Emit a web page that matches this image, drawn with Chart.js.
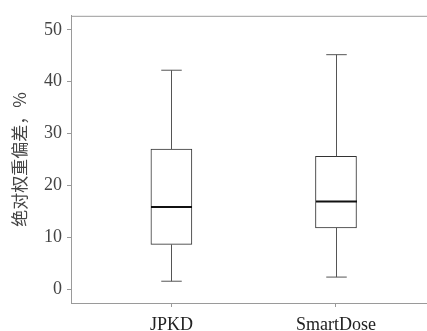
<!DOCTYPE html>
<html>
<head>
<meta charset="utf-8">
<script src="https://cdn.jsdelivr.net/npm/chart.js@4"></script>
<style>
  html, body { margin: 0; padding: 0; background: #fff; }
  #wrap { width: 427px; height: 331px; }
</style>
</head>
<body>
<div id="wrap"><canvas id="boxChart"></canvas></div>
<script>
// box plot values
const categories = ['JPKD', 'SmartDose'];
const whiskerLow = [1.5, 2.3];
const quartile1 = [8.6, 11.8];
const medians = [15.8, 16.9];
const quartile3 = [27.0, 25.6];
const whiskerHigh = [42.2, 45.2];
const yTicks = [0, 10, 20, 30, 40, 50];

const axisGray = '#9a9a9a';
const textGray = '#444';

// whiskers, caps and median lines drawn through the chart scales
const boxExtras = {
    id: 'boxExtras',
    afterDatasetsDraw(chart) {
        const ctx = chart.ctx;
        const xs = chart.scales.x;
        const ys = chart.scales.y;
        const meta = chart.getDatasetMeta(0);
        ctx.save();
        categories.forEach((c, i) => {
            const x = Math.round(xs.getPixelForValue(i + 1)) + 0.5;
            const w = meta.data[i].width;
            const cap = w / 2;
            const yLo = ys.getPixelForValue(whiskerLow[i]);
            const yQ1 = ys.getPixelForValue(quartile1[i]);
            const yQ3 = ys.getPixelForValue(quartile3[i]);
            const yHi = ys.getPixelForValue(whiskerHigh[i]);
            const yMed = ys.getPixelForValue(medians[i]);

            ctx.strokeStyle = '#555';
            ctx.lineWidth = 1;
            ctx.beginPath();
            ctx.moveTo(x, yQ3); ctx.lineTo(x, yHi);
            ctx.moveTo(x, yQ1); ctx.lineTo(x, yLo);
            ctx.moveTo(x - cap / 2, yHi); ctx.lineTo(x + cap / 2, yHi);
            ctx.moveTo(x - cap / 2, yLo); ctx.lineTo(x + cap / 2, yLo);
            ctx.stroke();

            ctx.strokeStyle = '#111';
            ctx.lineWidth = 2;
            ctx.beginPath();
            ctx.moveTo(x - w / 2, yMed); ctx.lineTo(x + w / 2, yMed);
            ctx.stroke();
        });
        // top frame line
        const area = chart.chartArea;
        ctx.strokeStyle = axisGray;
        ctx.lineWidth = 1;
        ctx.beginPath();
        ctx.moveTo(area.left, area.top + 0.5);
        ctx.lineTo(area.right, area.top + 0.5);
        ctx.stroke();
        ctx.restore();
    }
};

const boxCtx = document.getElementById('boxChart').getContext('2d');

const chart = new Chart(boxCtx, {
    type: 'bar',
    data: {
        datasets: [{
            data: categories.map((c, i) => ({ x: i + 1, y: [quartile1[i], quartile3[i]] })),
            backgroundColor: '#fff',
            borderColor: '#333',
            borderWidth: 1,
            borderSkipped: false,
            barThickness: 41
        }]
    },
    options: {
        responsive: true,
        maintainAspectRatio: false,
        animation: false,
        layout: { padding: { top: 15, right: 0, left: 0, bottom: 0 } },
        plugins: {
            legend: { display: false },
            tooltip: { enabled: false }
        },
        scales: {
            x: {
                type: 'linear',
                offset: false,
                min: 0.39,
                max: 2.553,
                afterBuildTicks: (axis) => {
                    axis.ticks = categories.map((c, i) => ({ value: i + 1 }));
                },
                afterFit: (axis) => { axis.height = 28; },
                ticks: {
                    callback: (v) => categories[Math.round(v) - 1],
                    color: '#222',
                    padding: 7,
                    maxRotation: 0,
                    font: { family: 'Liberation Serif', size: 18 }
                },
                grid: { offset: false, drawOnChartArea: false, tickLength: 4, color: axisGray },
                border: { color: axisGray, width: 1 }
            },
            y: {
                min: -2.7,
                max: 52.7,
                afterBuildTicks: (axis) => {
                    axis.ticks = yTicks.map(v => ({ value: v }));
                },
                afterFit: (axis) => { axis.width = 71; },
                ticks: {
                    color: textGray,
                    padding: 5,
                    font: { family: 'Liberation Serif', size: 18 }
                },
                title: {
                    display: true,
                    text: '绝对权重偏差，%',
                    color: textGray,
                    padding: { top: 9, bottom: 0 },
                    font: { family: 'Noto Sans CJK SC', size: 17 }
                },
                grid: { drawOnChartArea: false, tickLength: 4, color: axisGray },
                border: { color: axisGray, width: 1 }
            }
        }
    },
    plugins: [boxExtras]
});
</script>
</body>
</html>
